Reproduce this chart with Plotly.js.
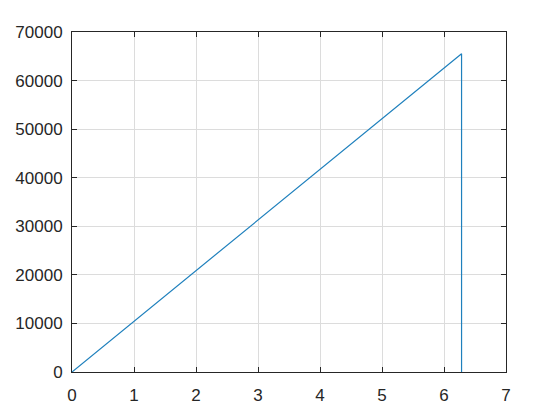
<!DOCTYPE html>
<html>
<head>
<meta charset="utf-8">
<script src="https://cdn.plot.ly/plotly-3.0.1.min.js"></script>
<style>
  html, body { margin: 0; padding: 0; background: #fff; }
  #plot { width: 560px; height: 418px; }
</style>
</head>
<body>
<div id="plot"></div>
<script>
// ramp up to 2*pi, then straight drop back to zero
var xs = [0, 6.2832, 6.2832];
var ys = [0, 65535, 0];

var xTicks = [0, 1, 2, 3, 4, 5, 6, 7];
var yTicks = [0, 10000, 20000, 30000, 40000, 50000, 60000, 70000];

var trace = {
  x: xs,
  y: ys,
  mode: "lines",
  type: "scatter",
  line: {color: "#1f80bd", width: 1.2},
  hoverinfo: "skip"
};

var axisStyle = {
  showgrid: true,
  gridcolor: "#dcdcdc",
  gridwidth: 1,
  zeroline: false,
  showline: true,
  linecolor: "#262626",
  linewidth: 1,
  mirror: "allticks",
  ticks: "inside",
  ticklen: 5,
  tickcolor: "#262626",
  tickfont: {family: "Liberation Sans, Arial, sans-serif", size: 17, color: "#262626"}
};

var layout = {
  width: 560,
  height: 418,
  showlegend: false,
  margin: {l: 72, r: 54, t: 32, b: 46},
  paper_bgcolor: "#ffffff",
  plot_bgcolor: "#ffffff",
  xaxis: Object.assign({}, axisStyle, {
    range: [0, 7],
    tickvals: xTicks,
    ticktext: xTicks.map(String),
    ticklabelstandoff: 8
  }),
  yaxis: Object.assign({}, axisStyle, {
    range: [0, 70000],
    tickvals: yTicks,
    ticktext: yTicks.map(String),
    ticklabelstandoff: 5
  })
};

Plotly.newPlot("plot", [trace], layout, {staticPlot: true, displayModeBar: false});
</script>
</body>
</html>
